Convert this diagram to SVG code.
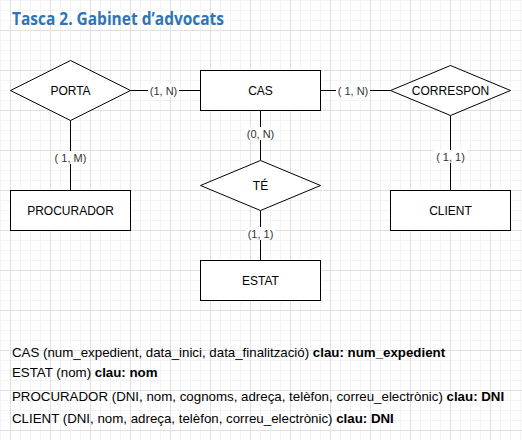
<svg xmlns="http://www.w3.org/2000/svg" width="522" height="440" viewBox="0 0 522 440">
<defs>
<pattern id="minor" width="10" height="10" patternUnits="userSpaceOnUse">
<path d="M0 0.5H10M0.5 0V10" fill="none" stroke="#f3f3f3" stroke-width="1"/>
</pattern>
<pattern id="major" x="10" y="30" width="40" height="40" patternUnits="userSpaceOnUse">
<path d="M0 0.5H40M0.5 0V40" fill="none" stroke="#e0e0e0" stroke-width="1"/>
</pattern>
<style>
.shape{fill:#fff;stroke:#000;stroke-width:1}
.edge{stroke:#000;stroke-width:1;fill:none}
.lbl{font-family:"Liberation Sans",Arial,sans-serif;font-size:12px;fill:#000;text-anchor:middle;dominant-baseline:central}
.card{font-family:"Liberation Sans",Arial,sans-serif;font-size:11px;fill:#333;text-anchor:middle;dominant-baseline:central}
.cbg{fill:#fff}
.txt{font-family:"Liberation Sans",Arial,sans-serif;font-size:13.3px;fill:#000}
.title{font-family:"Open Sans","Liberation Sans",sans-serif;font-size:17px;font-weight:bold;fill:#2e75b6}
</style>
</defs>
<rect width="522" height="440" fill="#fff"/>
<rect width="522" height="440" fill="url(#minor)"/>
<rect width="522" height="440" fill="url(#major)"/>
<text class="title" x="12" y="25" textLength="212" lengthAdjust="spacingAndGlyphs">Tasca 2. Gabinet d’advocats</text>
<g id="connectors">
<path class="edge" d="M130.5 90.5H200.5"/>
<rect class="cbg" x="148" y="84" width="31" height="13"/>
<text class="card" x="163.5" y="90.5">(1, N)</text>
<path class="edge" d="M70.5 120.5V190.5"/>
<rect class="cbg" x="52" y="151" width="37" height="13"/>
<text class="card" x="70.5" y="157.5">( 1, M)</text>
<path class="edge" d="M320.5 90.5H390.5"/>
<rect class="cbg" x="336" y="84" width="34" height="13"/>
<text class="card" x="353" y="90.5">( 1, N)</text>
<path class="edge" d="M260.5 110.5V160.5"/>
<rect class="cbg" x="245" y="127" width="31" height="13"/>
<text class="card" x="260.5" y="133.5">(0, N)</text>
<path class="edge" d="M260.5 210.5V260.5"/>
<rect class="cbg" x="246" y="227" width="29" height="13"/>
<text class="card" x="260.5" y="233.5">(1, 1)</text>
<path class="edge" d="M450.5 115.5V190.5"/>
<rect class="cbg" x="434" y="150" width="33" height="13"/>
<text class="card" x="450.5" y="156.5">( 1, 1)</text>
</g>
<g id="PORTA">
<polygon class="shape" points="10.5,90.5 70.5,60.5 130.5,90.5 70.5,120.5"/>
<text class="lbl" x="70.5" y="90.5">PORTA</text>
</g>
<g id="CAS">
<rect class="shape" x="200.5" y="70.5" width="120" height="40"/>
<text class="lbl" x="260.5" y="90.5">CAS</text>
</g>
<g id="CORRESPON">
<polygon class="shape" points="390.5,90.5 450.5,65.5 510.5,90.5 450.5,115.5"/>
<text class="lbl" x="450.5" y="90.5">CORRESPON</text>
</g>
<g id="PROCURADOR">
<rect class="shape" x="10.5" y="190.5" width="120" height="40"/>
<text class="lbl" x="70.5" y="210.5">PROCURADOR</text>
</g>
<g id="TE">
<polygon class="shape" points="200.5,185.5 260.5,160.5 320.5,185.5 260.5,210.5"/>
<text class="lbl" x="260.5" y="185.5">TÉ</text>
</g>
<g id="CLIENT">
<rect class="shape" x="390.5" y="190.5" width="120" height="40"/>
<text class="lbl" x="450.5" y="210.5">CLIENT</text>
</g>
<g id="ESTAT">
<rect class="shape" x="200.5" y="260.5" width="120" height="40"/>
<text class="lbl" x="260.5" y="280.5">ESTAT</text>
</g>
<g id="schema">
<text class="txt" x="12" y="357">CAS (num_expedient, data_inici, data_finalització) <tspan font-weight="bold">clau: num_expedient</tspan></text>
<text class="txt" x="12" y="377">ESTAT (nom) <tspan font-weight="bold">clau: nom</tspan></text>
<text class="txt" x="12" y="401">PROCURADOR (DNI, nom, cognoms, adreça, telèfon, correu_electrònic) <tspan font-weight="bold">clau: DNI</tspan></text>
<text class="txt" x="12" y="423">CLIENT (DNI, nom, adreça, telèfon, correu_electrònic) <tspan font-weight="bold">clau: DNI</tspan></text>
</g>
</svg>
